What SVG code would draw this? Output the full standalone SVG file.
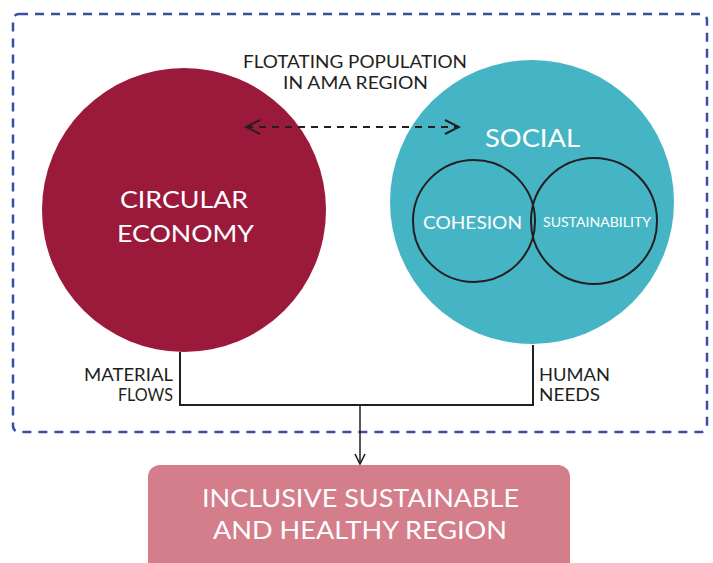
<svg xmlns="http://www.w3.org/2000/svg" width="713" height="563" viewBox="0 0 713 563">
<style>
text{font-family:Lato,"Liberation Sans",sans-serif;}
.w{fill:#fff;}
.k{fill:#231f20;}
.ln{fill:none;stroke:#231f20;stroke-width:2;}
</style>
<defs>
<marker id="open" viewBox="0 0 12 12" refX="11" refY="6" markerWidth="12" markerHeight="12" markerUnits="userSpaceOnUse" orient="auto-start-reverse">
<path d="M1,1 L11,6 L1,11" fill="none" stroke="#231f20" stroke-width="1.6"/>
</marker>
<marker id="open2" viewBox="0 0 18 18" refX="16" refY="9" markerWidth="18" markerHeight="18" markerUnits="userSpaceOnUse" orient="auto-start-reverse">
<path d="M2,2 L16,9 L2,16" fill="none" stroke="#231f20" stroke-width="2"/>
</marker>
</defs>
<rect width="713" height="563" fill="#fff"/>
<g id="region">
<rect x="13" y="14" width="694" height="418" rx="6" fill="none" stroke="#3a4ea8" stroke-width="2.5" stroke-dasharray="9 7"/>
</g>
<g id="circular-economy">
<circle cx="184" cy="210" r="142" fill="#9b1a3c"/>
<text class="w" x="120" y="208" font-size="24" textLength="128" lengthAdjust="spacingAndGlyphs">CIRCULAR</text>
<text class="w" x="117" y="242" font-size="24" textLength="137" lengthAdjust="spacingAndGlyphs">ECONOMY</text>
</g>
<g id="social">
<circle cx="532" cy="202" r="142" fill="#45b5c5"/>
<text class="w" x="485" y="147" font-size="25" textLength="95" lengthAdjust="spacingAndGlyphs">SOCIAL</text>
</g>
<g id="cohesion">
<circle cx="474" cy="221" r="61" fill="none" stroke="#231f20" stroke-width="2"/>
<text class="w" x="423" y="229" font-size="18" textLength="99" lengthAdjust="spacingAndGlyphs">COHESION</text>
</g>
<g id="sustainability">
<circle cx="594" cy="221" r="63" fill="none" stroke="#231f20" stroke-width="2"/>
<text class="w" x="543" y="227" font-size="14" textLength="108" lengthAdjust="spacingAndGlyphs">SUSTAINABILITY</text>
</g>
<g id="floating-label">
<text class="k" x="243" y="68" font-size="18" textLength="224" lengthAdjust="spacingAndGlyphs">FLOTATING POPULATION</text>
<text class="k" x="283" y="89" font-size="18" textLength="145" lengthAdjust="spacingAndGlyphs">IN AMA REGION</text>
</g>
<g id="outcome">
<rect x="148" y="465" width="422" height="110" rx="12" fill="#d47d8b"/>
<text class="w" x="202" y="507" font-size="25" textLength="317" lengthAdjust="spacingAndGlyphs">INCLUSIVE SUSTAINABLE</text>
<text class="w" x="213" y="539" font-size="25" textLength="294" lengthAdjust="spacingAndGlyphs">AND HEALTHY REGION</text>
</g>
<g id="connectors">
<line x1="246" y1="127" x2="459" y2="127" stroke="#231f20" stroke-width="2" stroke-dasharray="7 6" marker-start="url(#open2)" marker-end="url(#open2)"/>
<polyline class="ln" points="180,352 180,405 533,405 533,345"/>
<line x1="360" y1="405" x2="360" y2="464" stroke="#231f20" stroke-width="1.5" marker-end="url(#open)"/>
<text class="k" x="84" y="381" font-size="18" textLength="89" lengthAdjust="spacingAndGlyphs">MATERIAL</text>
<text class="k" x="118" y="401" font-size="18" textLength="55" lengthAdjust="spacingAndGlyphs">FLOWS</text>
<text class="k" x="539" y="381" font-size="18" textLength="71" lengthAdjust="spacingAndGlyphs">HUMAN</text>
<text class="k" x="539" y="401" font-size="18" textLength="61" lengthAdjust="spacingAndGlyphs">NEEDS</text>
</g>
</svg>
